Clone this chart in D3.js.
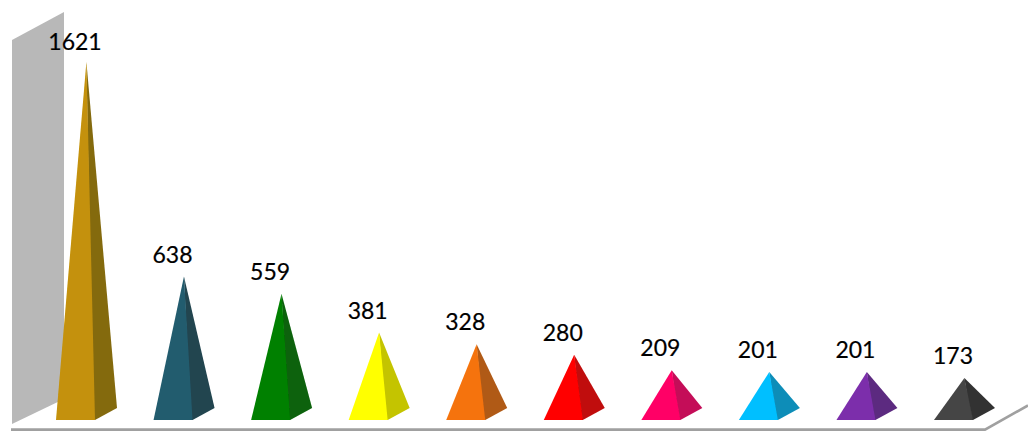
<!DOCTYPE html>
<html>
<head>
<meta charset="utf-8">
<script src="https://cdn.jsdelivr.net/npm/d3@7"></script>
<style>
  html, body { margin: 0; padding: 0; background: #fff; overflow: hidden; }
  svg { display: block; }
</style>
</head>
<body>
<div id="chart"></div>
<script>
// Chart values
const categories = ["c1", "c2", "c3", "c4", "c5", "c6", "c7", "c8", "c9", "c10"];
const values = [1621, 638, 559, 381, 328, 280, 209, 201, 201, 173];

// Face colors
const frontColors = ["#c49108", "#235c6e", "#008000", "#ffff00", "#f5730a", "#ff0000", "#ff0066", "#00bfff", "#7b2fab", "#444444"];
const sideColors = ["#846a10", "#20444f", "#0a620a", "#c4c400", "#b05a18", "#c00d0d", "#c40f58", "#0c8db8", "#5c2a80", "#333333"];

// Container dimensions
const w = 1028;
const h = 432;

// Pyramid shape
const baseWidth = 39;
const baseY = 420;
const depthX = 22;
const depthY = 12;
const apexOffset = 30.4;

const xScale = d3.scalePoint()
                 .domain(categories)
                 .range([56, 934]);

const yScale = d3.scaleLinear()
                 .domain([173, 1621])
                 .range([378, 62]);

const frontColor = d3.scaleOrdinal().domain(categories).range(frontColors);
const sideColor = d3.scaleOrdinal().domain(categories).range(sideColors);

const data = categories.map((c, i) => ({ category: c, value: values[i] }));

const svg = d3.select("#chart")
              .append("svg")
              .attr("width", w)
              .attr("height", h);

const defs = svg.append("defs");
const blur = defs.append("filter").attr("id", "soft");
blur.append("feGaussianBlur").attr("stdDeviation", 0.35);

// Back wall
svg.append("polygon")
   .attr("points", "12,40 64,12 64,399 12,424")
   .attr("fill", "#b8b8b8")
   .attr("filter", "url(#soft)");

// Floor edge
svg.append("polyline")
   .attr("points", "11,429.6 985,429.6 1028,405.5")
   .attr("fill", "none")
   .attr("stroke", "#a0a0a0")
   .attr("stroke-width", 2.6);

const pyramids = svg.selectAll(".pyramid")
                    .data(data)
                    .enter()
                    .append("g")
                    .attr("class", "pyramid")
                    .attr("filter", "url(#soft)");

// Side face, runs a little under the front face so no seam shows
pyramids.append("polygon")
        .attr("fill", d => sideColor(d.category))
        .attr("points", function (d) {
          const x = xScale(d.category);
          return [
            [x + baseWidth - 2, baseY],
            [x + baseWidth, baseY],
            [x + baseWidth + depthX, baseY - depthY],
            [x + apexOffset, yScale(d.value)]
          ].join(" ");
        });

// Front face
pyramids.append("polygon")
        .attr("fill", d => frontColor(d.category))
        .attr("points", function (d) {
          const x = xScale(d.category);
          return [
            [x, baseY],
            [x + baseWidth, baseY],
            [x + apexOffset, yScale(d.value)]
          ].join(" ");
        });

// Value labels, the tallest one is held inside the plot top
svg.selectAll(".label")
   .data(data)
   .enter()
   .append("text")
   .attr("class", "label")
   .attr("x", d => xScale(d.category) + 19)
   .attr("y", d => Math.max(50, yScale(d.value) - 14))
   .attr("text-anchor", "middle")
   .style("font-family", "Lato, 'Open Sans', sans-serif")
   .style("font-size", "23px")
   .attr("fill", "#000")
   .attr("stroke", "#000")
   .attr("stroke-width", 0.2)
   .text(d => d.value);
</script>
</body>
</html>
